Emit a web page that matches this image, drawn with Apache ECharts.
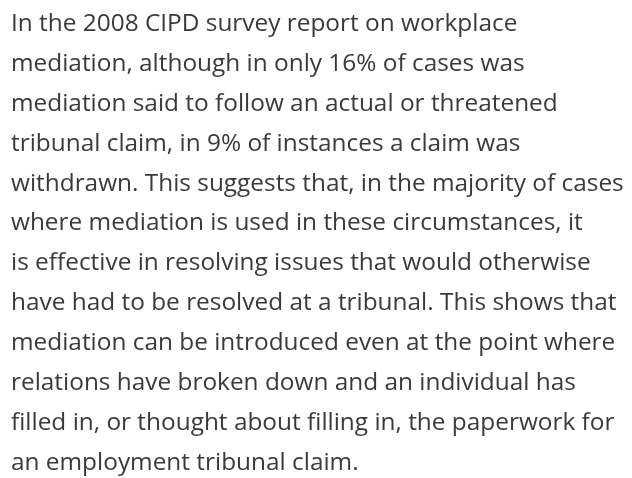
<!DOCTYPE html>
<html>
<head>
<meta charset="utf-8">
<script src="https://cdn.jsdelivr.net/npm/echarts@6/dist/echarts.min.js"></script>
<style>
  html, body { margin: 0; padding: 0; background: #fff; }
  #main { width: 632px; height: 478px; }
</style>
</head>
<body>
<div id="main"></div>
<script>
// paragraph lines, as broken in the picture
var lines = [
  'In the 2008 CIPD survey report on workplace',
  'mediation, although in only 16% of cases was',
  'mediation said to follow an actual or threatened',
  'tribunal claim, in 9% of instances a claim was',
  'withdrawn. This suggests that, in the majority of cases',
  'where mediation is used in these circumstances, it',
  'is effective in resolving issues that would otherwise',
  'have had to be resolved at a tribunal. This shows that',
  'mediation can be introduced even at the point where',
  'relations have broken down and an individual has',
  'filled in, or thought about filling in, the paperwork for',
  'an employment tribunal claim.'
];

var chart = echarts.init(document.getElementById('main'));

var elements = lines.map(function (txt, i) {
  return {
    type: 'text',
    left: 11,
    top: 12 + i * 39.9,
    style: {
      text: txt,
      fill: '#3a3a3a',
      font: '24.4px "Open Sans"'
    }
  };
});

chart.setOption({
  backgroundColor: '#fff',
  graphic: { elements: elements }
});
</script>
</body>
</html>
